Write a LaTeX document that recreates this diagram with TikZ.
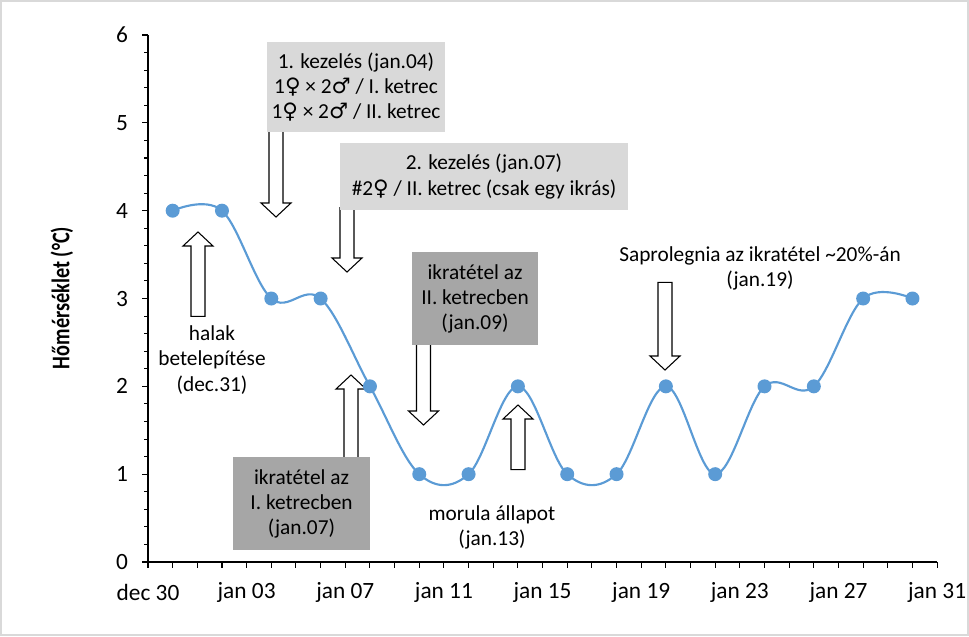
\documentclass[tikz,border=0pt]{standalone}
\usepackage{fontspec}
\setmainfont{Carlito}
\newfontfamily\symfont{DejaVu Sans}
\newfontfamily\titlefont[FakeStretch=0.8]{Carlito}
\usetikzlibrary{positioning,calc,backgrounds}
\definecolor{serieblue}{HTML}{5B9BD5}
\definecolor{lightbox}{HTML}{D9D9D9}
\definecolor{darkbox}{HTML}{A6A6A6}
\definecolor{chartframe}{HTML}{D9D9D9}
\newcommand{\femsym}{{\symfont\char"2640}}
\newcommand{\malesym}{{\symfont\char"2642}}
% hollow block arrow from (#1) to its tip (#2)
\newcommand{\hollowarrow}[2]{%
  \draw[hollow] let \p1=(#1), \p2=(#2), \n1={\y2-10.5*sign(\y2-\y1)}, \n2={\y1-2*sign(\y2-\y1)} in
    (\x2-5.25pt,\n2) -- (\x2-5.25pt,\n1) -- (\x2-11.25pt,\n1) -- (\p2)
    -- (\x2+11.25pt,\n1) -- (\x2+5.25pt,\n1) -- (\x2+5.25pt,\n2) -- cycle;}

\begin{document}
\begin{tikzpicture}[x=0.75pt, y=-0.75pt]
      % Define styles
      \tikzstyle{note} = [align=center, inner sep=0pt, font=\fontsize{16}{18.8}\selectfont]
      \tikzstyle{lightnote} = [note, fill=lightbox]
      \tikzstyle{darknote} = [note, fill=darkbox]
      \tikzstyle{hollow} = [draw=black, fill=white, line width=0.8pt, line join=miter]
      \tikzstyle{axisline} = [draw=black, line width=0.8pt]
      \tikzstyle{ticklab} = [inner sep=0pt, font=\fontsize{17.5}{20}\selectfont]
      \tikzstyle{dataline} = [draw=serieblue, line width=1.6pt]
      \tikzstyle{marker} = [circle, fill=serieblue, inner sep=0pt, minimum size=10.5pt]

      \useasboundingbox (0,0) rectangle (969,636);
      \draw[chartframe, line width=0.8pt] (1,1) rectangle (968,635);

      % Chart axes and data
      \begin{scope}[shift={(148,562)}, x=18.495pt, y=65.8725pt]
        \draw[axisline] (0,6) -- (0,0) -- (32,0);
        \foreach \i in {0,...,30}
          \draw[axisline] (0,\i/5) -- ++(-3pt,0pt);
        \foreach \v in {0,...,6} {
          \draw[axisline] (0,\v) -- ++(-4.5pt,0pt);
          \node[ticklab, anchor=east] (ylab\v) at (-0.8,\v) {\v};
        }
        \foreach \d in {0,...,32}
          \draw[axisline] (\d,0) -- ++(0pt,-4.5pt);
        \foreach \d/\lab in {0/dec 30, 4/jan 03, 8/jan 07, 12/jan 11, 16/jan 15, 20/jan 19, 24/jan 23, 28/jan 27, 32/jan 31}
          \node[ticklab] (xlab\d) at (\d,-0.345) {\lab};
        \draw[dataline] plot[smooth, tension=0.6] coordinates {(1,4) (3,4) (5,3) (7,3) (9,2) (11,1) (13,1) (15,2) (17,1) (19,1) (21,2) (23,1) (25,2) (27,2) (29,3) (31,3)};
        \foreach \d/\v in {1/4, 3/4, 5/3, 7/3, 9/2, 11/1, 13/1, 15/2, 17/1, 19/1, 21/2, 23/1, 25/2, 27/2, 29/3, 31/3}
          \node[marker] (pt\d) at (\d,\v) {};
      \end{scope}

      \node[rotate=90, inner sep=0pt, font=\titlefont\bfseries\fontsize{19}{22}\selectfont] (ytitle) at (62,298) {Hőmérséklet (°C)};

      % Place notes
      \node[lightnote, minimum width=133.5pt, minimum height=67.5pt] (kezeles1) at (356,87)
        {1. kezelés (jan.04)\\1\femsym{} × 2\malesym{} / I. ketrec\\1\femsym{} × 2\malesym{} / II. ketrec};
      \node[lightnote, minimum width=216pt, minimum height=50.25pt] (kezeles2) at (484,176.5)
        {2. kezelés (jan.07)\\\#2\femsym{} / II. ketrec (csak egy ikrás)};
      \node[darknote, minimum width=94.5pt, minimum height=69.75pt] (ikra2) at (475,298.5)
        {ikratétel az\\II. ketrecben\\(jan.09)};
      \node[darknote, minimum width=102.75pt, minimum height=69.75pt] (ikra1) at (301.5,503.5)
        {ikratétel az\\I. ketrecben\\(jan.07)};
      \node[note] (halak) at (212,360) {halak\\betelepítése\\(dec.31)};
      \node[note] (morula) at (492,527) {morula állapot\\(jan.13)};
      \node[note] (sapro) at (760,268) {Saprolegnia az ikratétel \textasciitilde20\%-án\\(jan.19)};

      % Arrow tips
      \coordinate (tip1) at (276,217);
      \coordinate (tip2) at (347,272);
      \coordinate (tip3) at (423.5,425);
      \coordinate (tip4) at (351,375);
      \coordinate (tip5) at (198,232);
      \coordinate (tip6) at (518,405);
      \coordinate (tip7) at (665,370);

      % Draw arrows
      \begin{scope}[on background layer]
        \hollowarrow{kezeles1.south -| tip1}{tip1}
        \hollowarrow{kezeles2.south -| tip2}{tip2}
        \hollowarrow{ikra2.south -| tip3}{tip3}
        \hollowarrow{ikra1.north -| tip4}{tip4}
        \hollowarrow{$(halak.north -| tip5)+(0,-12)$}{tip5}
        \hollowarrow{$(morula.north -| tip6)+(0,-38)$}{tip6}
        \hollowarrow{$(sapro.south -| tip7)+(0,-5)$}{tip7}
      \end{scope}
    \end{tikzpicture}
\end{document}
